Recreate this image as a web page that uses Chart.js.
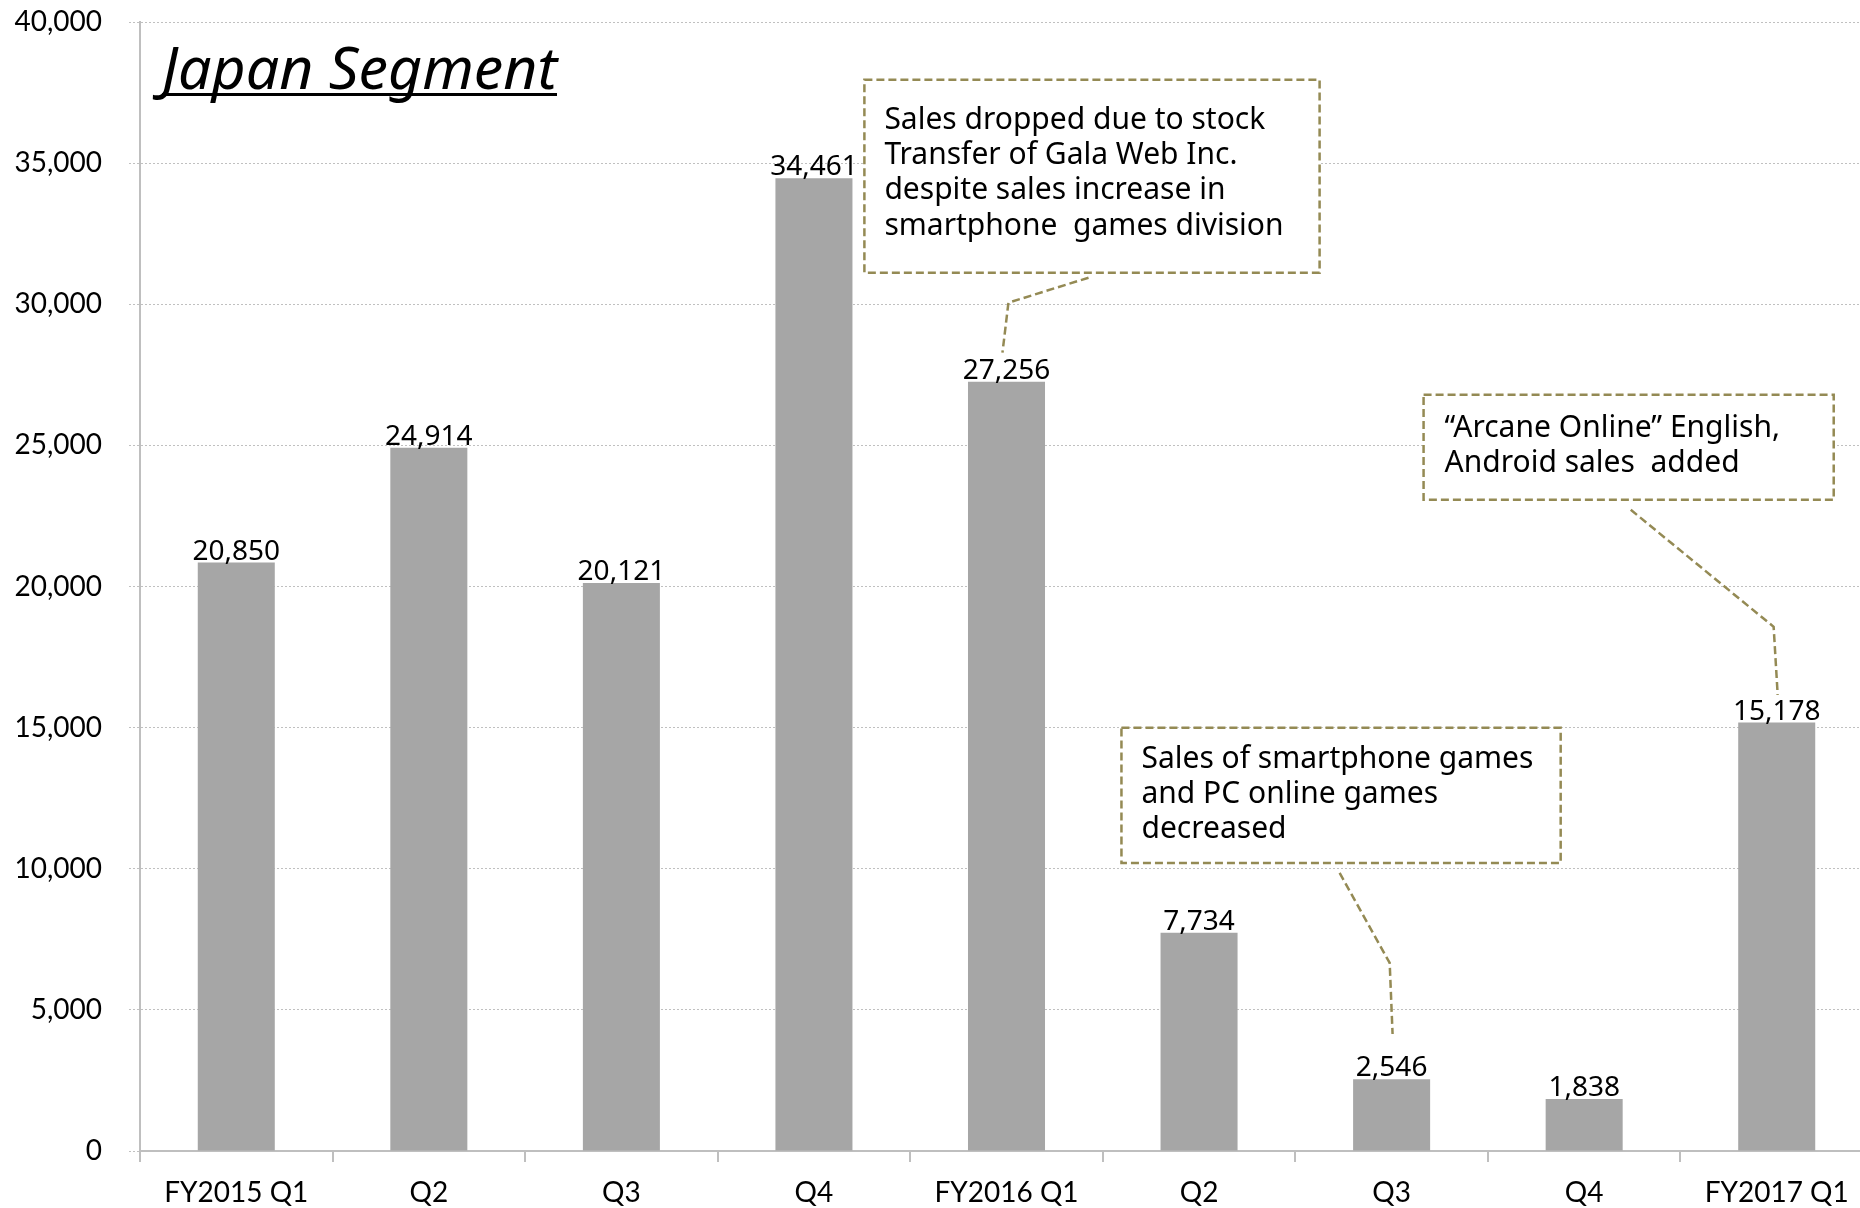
<!DOCTYPE html>
<html>
<head>
<meta charset="utf-8">
<script src="https://cdn.jsdelivr.net/npm/chart.js@4"></script>
<style>
  html, body { margin: 0; padding: 0; background: #fff; overflow: hidden; }
  #wrap { width: 1873px; height: 1208px; }
</style>
</head>
<body>
<div id="wrap"><canvas id="c" width="1873" height="1208"></canvas></div>
<script>
// Japan segment quarterly sales (million yen)
const categories = ['FY2015 Q1', 'Q2', 'Q3', 'Q4', 'FY2016 Q1', 'Q2', 'Q3', 'Q4', 'FY2017 Q1'];
const sales = [20850, 24914, 20121, 34461, 27256, 7734, 2546, 1838, 15178];
const yMin = 0, yMax = 40000, yStep = 5000;

// callout boxes: x in category units, y in value units; text offsets in px
const notes = [
  { box: [3.262, 37958, 5.626, 31118], pad: 20, first: 49,
    lines: ['Sales dropped due to stock', 'Transfer of Gala Web Inc.', 'despite sales increase in', 'smartphone  games division'],
    leader: [[4.426, 30941], [4.010, 30055], [3.979, 28283]] },
  { box: [4.597, 14992, 6.878, 10207], pad: 20, first: 40,
    lines: ['Sales of smartphone games', 'and PC online games', 'decreased'],
    leader: [[5.730, 9853], [5.990, 6663], [6.005, 4147]] },
  { box: [6.166, 26794, 8.296, 23073], pad: 21, first: 42,
    lines: ['\u201CArcane Online\u201D English,', 'Android sales  added'],
    leader: [[7.242, 22718], [7.984, 18572], [8.005, 16162]] },
];

const NOTE_COLOR = '#948A54';
const fmt = (v) => v.toLocaleString('en-US');

const overlay = {
  id: 'overlay',
  afterDatasetsDraw(chart) {
    const { ctx, chartArea, scales: { x, y } } = chart;
    ctx.save();

    // value labels on bars
    ctx.fillStyle = '#000';
    ctx.font = '28px "Noto Sans"';
    ctx.textAlign = 'center';
    ctx.textBaseline = 'alphabetic';
    chart.getDatasetMeta(0).data.forEach((bar, i) => {
      ctx.fillText(fmt(sales[i]), bar.x, bar.y - 3);
    });

    // title
    ctx.font = 'italic 59px "Noto Sans"';
    ctx.textAlign = 'left';
    const tx = chartArea.left + 22, ty = chartArea.top + 67;
    ctx.fillText('Japan Segment', tx, ty);
    const tw = ctx.measureText('Japan Segment').width;
    ctx.fillRect(tx, ty + 4, tw, 3);

    // callouts
    notes.forEach((n) => {
      const l = x.getPixelForValue(n.box[0]), t = y.getPixelForValue(n.box[1]);
      const r = x.getPixelForValue(n.box[2]), b = y.getPixelForValue(n.box[3]);
      ctx.fillStyle = '#fff';
      ctx.fillRect(l, t, r - l, b - t);
      ctx.strokeStyle = NOTE_COLOR;
      ctx.lineWidth = 2.5;
      ctx.setLineDash([8, 4]);
      ctx.strokeRect(l, t, r - l, b - t);
      ctx.beginPath();
      n.leader.forEach(([lx, ly], k) => {
        const px = x.getPixelForValue(lx), py = y.getPixelForValue(ly);
        if (k === 0) ctx.moveTo(px, py); else ctx.lineTo(px, py);
      });
      ctx.stroke();
      ctx.setLineDash([]);
      ctx.fillStyle = '#000';
      ctx.font = '30px "Noto Sans"';
      n.lines.forEach((s, k) => ctx.fillText(s, l + n.pad, t + n.first + k * 35.3));
    });
    ctx.restore();
  },
};

new Chart(document.getElementById('c'), {
  type: 'bar',
  data: {
    labels: categories,
    datasets: [{
      data: sales,
      backgroundColor: '#A6A6A6',
      categoryPercentage: 1,
      barPercentage: 0.4,
    }],
  },
  options: {
    responsive: false,
    devicePixelRatio: 1,
    animation: false,
    layout: { padding: { top: 22, left: 0, right: 0, bottom: 0 } },
    plugins: { legend: { display: false }, tooltip: { enabled: false } },
    scales: {
      x: {
        afterFit: (s) => { s.height = 57; s.paddingLeft = 0; s.paddingRight = 0; },
        grid: { offset: true, drawOnChartArea: false, tickLength: 11, color: '#BFBFBF', lineWidth: 2 },
        border: { color: '#BFBFBF', width: 2 },
        ticks: { color: '#000', padding: 14, font: { family: 'Lato', size: 28 }, maxRotation: 0 },
      },
      y: {
        min: yMin, max: yMax,
        afterFit: (s) => { s.width = 140; s.paddingTop = 0; s.paddingBottom = 0; },
        grid: { color: '#C0C0C0', lineWidth: 1, tickLength: 11, tickColor: '#C0C0C0', tickBorderDash: [2, 2] },
        border: { color: '#BFBFBF', width: 2, dash: [2, 2] },
        ticks: { stepSize: yStep, color: '#000', padding: 27, font: { family: 'Lato', size: 28 }, callback: (v) => fmt(v) },
      },
    },
  },
  plugins: [overlay],
});
</script>
</body>
</html>
